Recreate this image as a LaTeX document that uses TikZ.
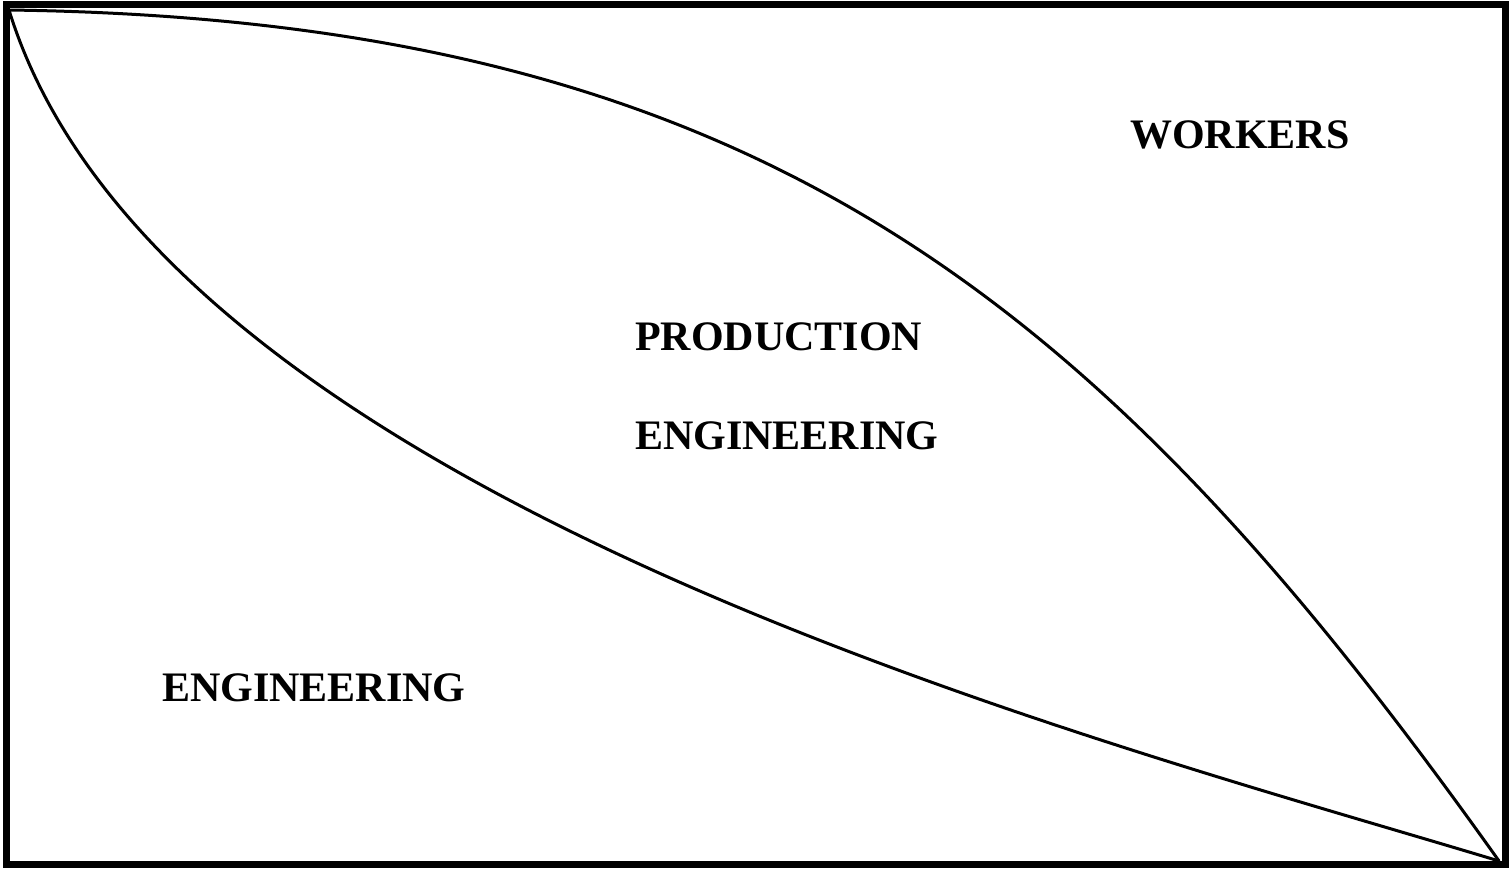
\documentclass[tikz,border=0pt]{standalone}
\usepackage{fontspec}
\setmainfont{Liberation Serif}
\usetikzlibrary{positioning}
\tikzset{
  regionlabel/.style={font=\fontsize{42}{42}\selectfont\bfseries, inner sep=0pt, anchor=base west},
  boundary/.style={line width=3pt, line join=round, line cap=round}
}
\begin{document}
\begin{tikzpicture}[x=1pt,y=-1pt]
  \useasboundingbox (0,0) rectangle (1511,871);
  % frame
  \draw[line width=7pt] (6,4) rectangle (1505,864);
  \coordinate (topleft) at (9,10);
  \coordinate (bottomright) at (1499,861);
  % lower boundary
  \draw[boundary] (topleft) .. controls (160,500) and (1100,740) .. (bottomright);
  % upper boundary
  \draw[boundary] (topleft) .. controls (760,20) and (1100,300) .. (bottomright);
  % labels
  \node[regionlabel] (workers) at (1130,148) {WORKERS};
  \node[regionlabel] (prod) at (635,350) {PRODUCTION};
  \node[regionlabel] (prodeng) at (635,449) {ENGINEERING};
  \node[regionlabel] (eng) at (162,701) {ENGINEERING};
\end{tikzpicture}
\end{document}
